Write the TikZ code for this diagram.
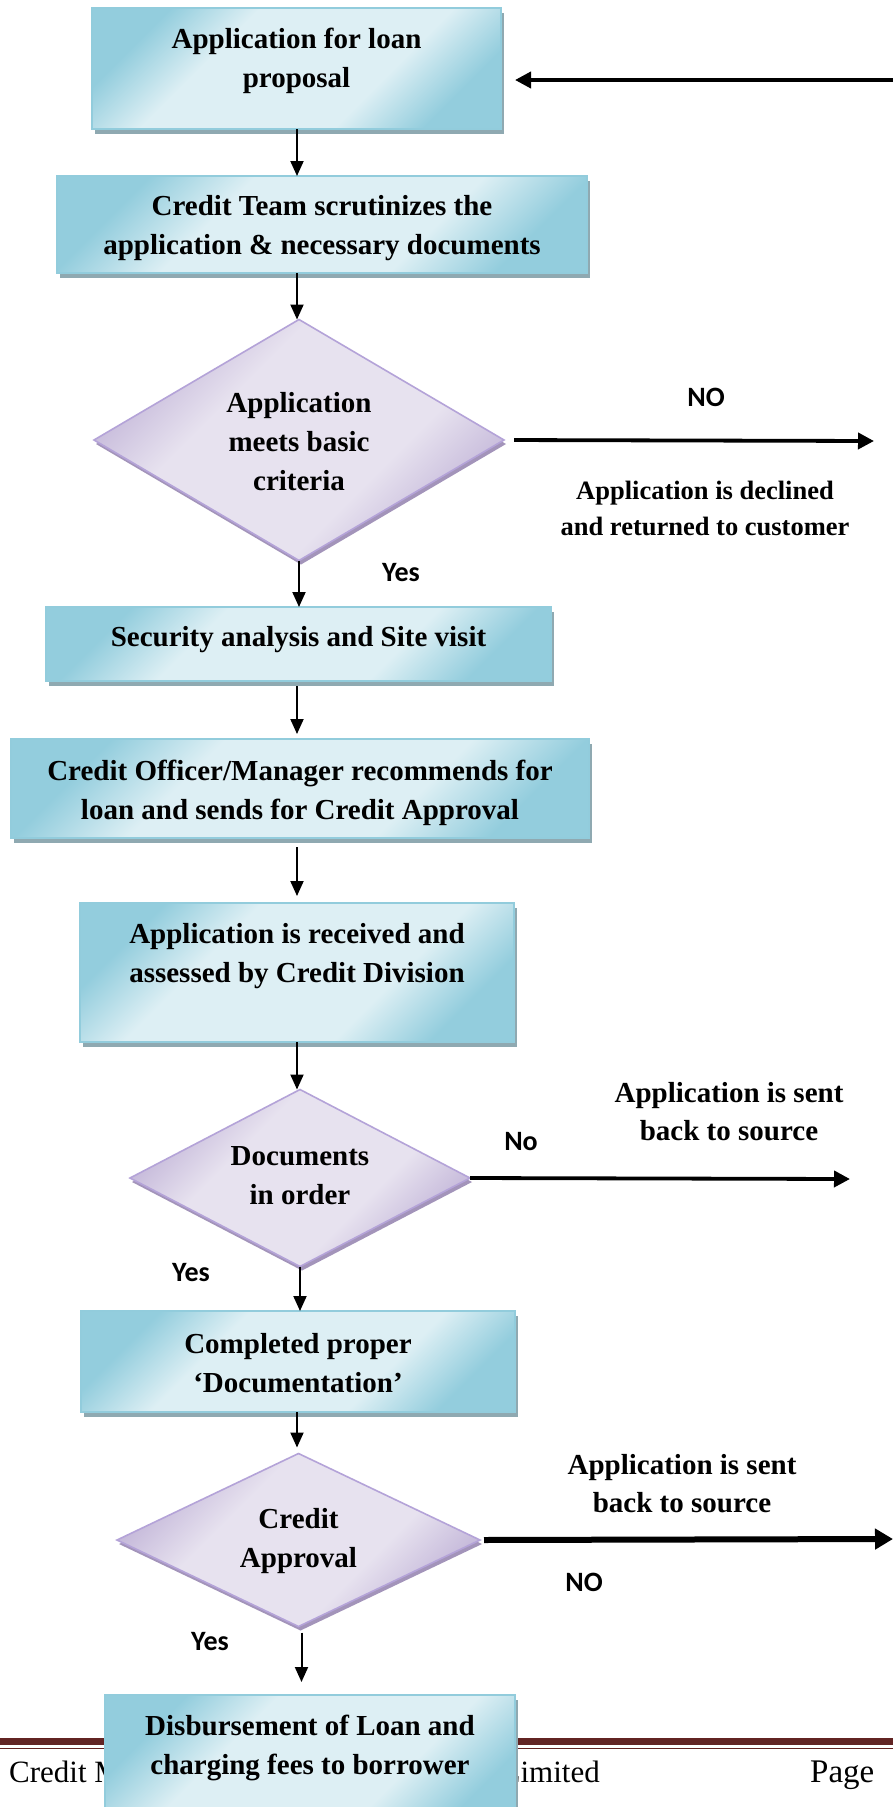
\documentclass[tikz,border=0pt]{standalone}
\usepackage{fontspec}
\setmainfont{Liberation Serif}
\newfontfamily\calib{Carlito}
\usetikzlibrary{arrows.meta,shapes.geometric,shadows}
\definecolor{boxDark}{HTML}{93CDDD}
\definecolor{boxLight}{HTML}{DDEFF4}
\definecolor{boxBorder}{HTML}{92CCDC}
\definecolor{boxShadow}{HTML}{8FA9B1}
\definecolor{diaDark}{HTML}{C2B5D8}
\definecolor{diaLight}{HTML}{E7E2EF}
\definecolor{diaBorder}{HTML}{B4A3D8}
\definecolor{diaShadow}{HTML}{A394BA}
\definecolor{footRed}{HTML}{622423}
\pgfdeclareverticalshading{boxshade}{100bp}{color(0bp)=(boxDark); color(25bp)=(boxDark); color(37bp)=(boxLight); color(63bp)=(boxLight); color(75bp)=(boxDark); color(100bp)=(boxDark)}
\pgfdeclareverticalshading{diashade}{100bp}{color(0bp)=(diaDark); color(25bp)=(diaDark); color(38bp)=(diaLight); color(62bp)=(diaLight); color(75bp)=(diaDark); color(100bp)=(diaDark)}
\begin{document}
\begin{tikzpicture}[x=1pt,y=-1pt,
  boxnode/.style={draw=boxBorder, line width=1.6pt, shade, shading=boxshade, shading angle=45, inner sep=0pt, outer sep=0pt,
    general shadow={fill=boxShadow, shadow xshift=2.5pt, shadow yshift=-4.5pt}},
  dianode/.style={diamond, draw=diaBorder, line width=1.6pt, shade, shading=diashade, shading angle=45, inner sep=0pt, outer sep=0pt,
    general shadow={fill=diaShadow, shadow xshift=2pt, shadow yshift=-4pt}},
  txt/.style={font=\bfseries\fontsize{29pt}{39pt}\selectfont, align=center, inner sep=0pt},
  smalltxt/.style={font=\bfseries\fontsize{26.5pt}{36pt}\selectfont, align=center, inner sep=0pt},
  sans/.style={font=\calib\bfseries\fontsize{28pt}{32pt}\selectfont, inner sep=0pt},
  foot/.style={font=\fontsize{31pt}{34pt}\selectfont, inner sep=0pt},
  arr/.style={line width=2pt, -{Triangle[length=15pt,width=13pt]}},
  thickarr/.style={line width=3.8pt, -{Triangle[length=16pt,width=16pt]}},
  heavyarr/.style={line width=6pt, -{Triangle[length=18pt,width=20pt]}}
]
\useasboundingbox (0,0) rectangle (893,1807);
\clip (0,0) rectangle (893,1807);
\fill[white] (0,0) rectangle (893,1807);

% footer
\fill[footRed] (0,1738) rectangle (893,1745);
\fill[footRed] (0,1747.5) rectangle (893,1749.2);
\node[foot, anchor=base west] (f1) at (9,1782) {Credit M};
\node[foot, anchor=base east] (f2) at (600,1782) {Limited};
\node[foot, font=\fontsize{33pt}{36pt}\selectfont, anchor=base west] (f3) at (810,1782) {Page};

% column for vertical connectors
\coordinate (colx) at (297,0);

% boxes
\node[boxnode, minimum width=409pt, minimum height=121pt] (b1) at (296.5,68.5) {};
\node[boxnode, minimum width=530pt, minimum height=97pt] (b2) at (322,224.5) {};
\node[dianode, minimum width=410pt, minimum height=241pt] (d1) at (299,440) {};
\node[boxnode, minimum width=505pt, minimum height=74pt] (b3) at (298.5,644) {};
\node[boxnode, minimum width=578pt, minimum height=99pt] (b4) at (300,788.5) {};
\node[boxnode, minimum width=434pt, minimum height=139pt] (b5) at (297,972.5) {};
\node[dianode, minimum width=340pt, minimum height=177pt] (d2) at (300,1178) {};
\node[boxnode, minimum width=434pt, minimum height=101pt] (b6) at (298,1361.5) {};
\node[dianode, minimum width=363pt, minimum height=173pt] (d3) at (298.5,1540) {};
\node[boxnode, minimum width=410pt, minimum height=140pt] (b7) at (310,1765) {};

% texts in shapes
\node[txt] (t1) at (296.5,60.5) {Application for loan\\proposal};
\node[txt] (t2) at (322,228.5) {Credit Team scrutinizes the\\application \& necessary documents};
\node[txt] (t3) at (299,442) {Application\\meets basic\\criteria};
\node[txt] (t4) at (298.5,640) {Security analysis and Site visit};
\node[txt] (t5) at (300,792.5) {Credit Officer/Manager recommends for\\loan and sends for Credit Approval};
\node[txt] (t6) at (297,956.5) {Application is received and\\assessed by Credit Division};
\node[txt] (t7) at (300,1176) {Documents\\in order};
\node[txt] (t8) at (298,1363) {Completed proper\\`Documentation'};
\node[txt] (t9) at (298.5,1541) {Credit\\Approval};
\node[txt] (t10) at (310,1747.5) {Disbursement of Loan and\\charging fees to borrower};

% side labels
\node[sans] (no1) at (706,397) {NO};
\node[smalltxt] (l1) at (705,508.5) {Application is declined\\and returned to customer};
\node[sans] (yes1) at (401,573) {Yes};
\node[sans] (no2) at (521,1142) {No};
\node[txt, font=\bfseries\fontsize{29pt}{38pt}\selectfont] (l2) at (729,1111.5) {Application is sent\\back to source};
\node[sans] (yes2) at (191,1273) {Yes};
\node[txt, font=\bfseries\fontsize{29pt}{38pt}\selectfont] (l3) at (682,1483.5) {Application is sent\\back to source};
\node[sans] (no3) at (584,1582) {NO};
\node[sans] (yes3) at (210,1642) {Yes};

% free ends
\coordinate (backstart) at (900,80);
\coordinate (n1end) at (874,441);
\coordinate (n2end) at (850,1179);
\coordinate (n3end) at (893,1539);

% vertical connectors
\draw[arr] (colx |- b1.south) -- (colx |- b2.north);
\draw[arr] (colx |- b2.south) -- (colx |- d1.north);
\draw[arr] (d1.south) -- (d1.south |- b3.north);
\draw[arr, shorten <=5pt, shorten >=5pt] (colx |- b3.south) -- (colx |- b4.north);
\draw[arr, shorten <=9pt, shorten >=7pt] (colx |- b4.south) -- (colx |- b5.north);
\draw[arr] (colx |- b5.south) -- (colx |- d2.north);
\draw[arr] (d2.south) -- (d2.south |- b6.north);
\draw[arr, shorten >=6pt] (colx |- b6.south) -- (colx |- d3.north);
\draw[arr, shorten <=6pt, shorten >=13pt] ([xshift=3pt]d3.south) -- ([xshift=3pt]d3.south |- b7.north);

% horizontal connectors
\draw[thickarr, shorten >=14pt] (backstart) -- (b1.east |- backstart);
\draw[thickarr, shorten <=10pt] (d1.east) -- (n1end);
\draw[thickarr] (d2.east) -- (n2end);
\draw[heavyarr, shorten <=4pt] (d3.east) -- (n3end);
\end{tikzpicture}
\end{document}
